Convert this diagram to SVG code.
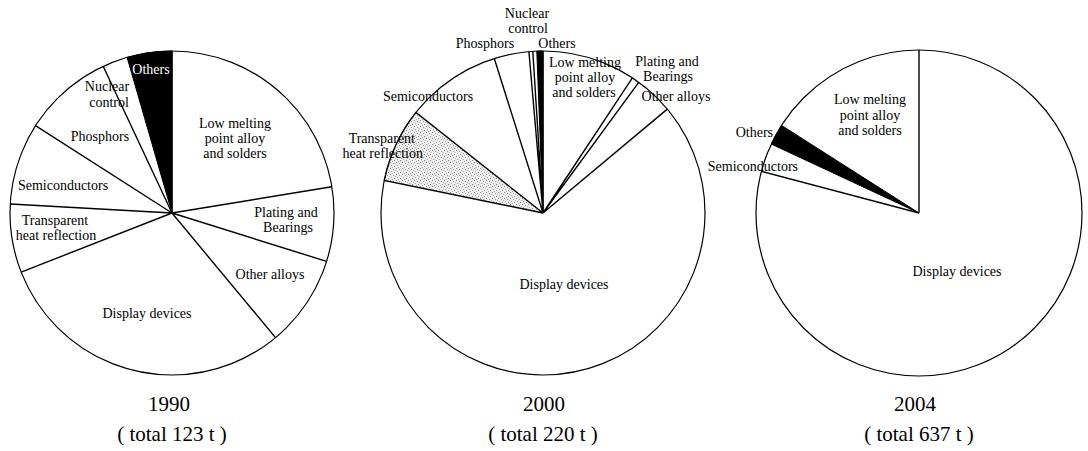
<svg xmlns="http://www.w3.org/2000/svg" width="1088" height="451" viewBox="0 0 1088 451">
<defs>
<pattern id="stip" width="6" height="6" patternUnits="userSpaceOnUse">
<rect width="6" height="6" fill="#eeeeee"/>
<rect x="0" y="0" width="1" height="1" fill="#888"/>
<rect x="3" y="1" width="1" height="1" fill="#999"/>
<rect x="1" y="3" width="1" height="1" fill="#aaa"/>
<rect x="4" y="4" width="1" height="1" fill="#888"/>
<rect x="5" y="2" width="1" height="1" fill="#bbb"/>
<rect x="2" y="5" width="1" height="1" fill="#aaa"/>
</pattern>
</defs>
<style>
.pie{fill:#fff;stroke:#000;stroke-width:1.2}
.ln{stroke:#000;stroke-width:1.4;fill:none}
.blk{fill:#000;stroke:#000;stroke-width:1}
.stp{fill:url(#stip);stroke:#000;stroke-width:1.4}
text{font-family:"Liberation Serif","Times New Roman",serif;font-size:14px;fill:#000}
.c{text-anchor:middle}
.e{text-anchor:end}
.w{fill:#fff}
.yr{font-size:21px;text-anchor:middle}
</style>
<rect width="1088" height="451" fill="#fff"/>

<g id="pie1990">
<circle class="pie" cx="172" cy="213" r="162"/>
<path class="blk" d="M172,213 L127.1,57.4 A162,162 0 0 1 172,51 Z"/>
<g id="lines1990" class="ln">
<path d="M172,213 L172,51 M172,213 L331.8,186.7 M172,213 L326.6,261.4 M172,213 L275.5,337.6 M172,213 L21.2,272.1 M172,213 L10.3,204 M172,213 L35.5,125.7 M172,213 L103.2,66.3"/>
</g>
<text class="c w" x="151" y="74">Others</text>
<text class="c" x="107" y="91">Nuclear</text>
<text class="c" x="109" y="107">control</text>
<text class="c" x="235" y="128">Low melting</text>
<text class="c" x="235" y="143">point alloy</text>
<text class="c" x="235" y="158">and solders</text>
<text class="c" x="100" y="141">Phosphors</text>
<text class="c" x="63" y="190">Semiconductors</text>
<text class="c" x="55" y="225">Transparent</text>
<text class="c" x="56" y="240">heat reflection</text>
<text class="c" x="286" y="217">Plating and</text>
<text class="c" x="288" y="232">Bearings</text>
<text class="c" x="270" y="279">Other alloys</text>
<text class="c" x="147" y="318">Display devices</text>
<text class="yr" x="169" y="411">1990</text>
<text class="yr" x="172" y="441">( total 123 t )</text>
</g>

<g id="pie2000">
<circle class="pie" cx="543" cy="213" r="162"/>
<path class="stp" d="M543,213 L384.3,180.4 A162,162 0 0 1 416.0,112.4 Z"/>
<path class="blk" d="M543,213 L536.8,51.1 A162,162 0 0 1 543,51 Z"/>
<g id="lines2000" class="ln">
<path d="M543,213 L543,51 M543,213 L632.4,77.9 M543,213 L638.7,82.3 M543,213 L667.3,109.1 M543,213 L494.3,58.5 M543,213 L528.9,51.6 M543,213 L532.8,51.3"/>
</g>
<text class="c" x="527" y="18">Nuclear</text>
<text class="c" x="528" y="33">control</text>
<text class="c" x="485" y="48">Phosphors</text>
<text class="c" x="557" y="48">Others</text>
<text class="c" x="585" y="67">Low melting</text>
<text class="c" x="585" y="82">point alloy</text>
<text class="c" x="584" y="97">and solders</text>
<text class="c" x="667" y="66">Plating and</text>
<text class="c" x="668" y="81">Bearings</text>
<text class="c" x="676" y="101">Other alloys</text>
<text class="c" x="428" y="101">Semiconductors</text>
<text class="e" x="415" y="143">Transparent</text>
<text class="e" x="423" y="158">heat reflection</text>
<text class="c" x="564" y="289">Display devices</text>
<text class="yr" x="544" y="411">2000</text>
<text class="yr" x="543" y="441">( total 220 t )</text>
</g>

<g id="pie2004">
<circle class="pie" cx="919" cy="213" r="163"/>
<path class="blk" d="M919,213 L771.3,144.1 A163,163 0 0 1 781.5,125.4 Z"/>
<g id="lines2004" class="ln">
<path d="M919,213 L919,50 M919,213 L761.4,171.4"/>
</g>
<text class="c" x="870" y="104">Low melting</text>
<text class="c" x="870" y="120">point alloy</text>
<text class="c" x="870" y="135">and solders</text>
<text class="e" x="773" y="137">Others</text>
<text class="e" x="798" y="171">Semiconductors</text>
<text class="c" x="957" y="276">Display devices</text>
<text class="yr" x="915" y="411">2004</text>
<text class="yr" x="919" y="441">( total 637 t )</text>
</g>
</svg>
